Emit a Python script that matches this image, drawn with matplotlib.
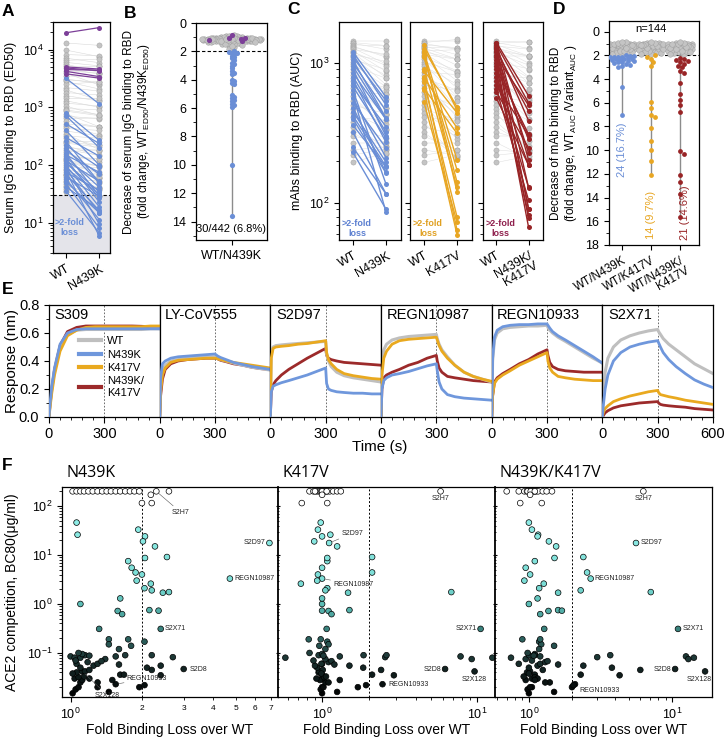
import numpy as np
import matplotlib
matplotlib.use("Agg")
import matplotlib.pyplot as plt
from matplotlib.colors import LinearSegmentedColormap, Normalize
from matplotlib.lines import Line2D
from matplotlib.ticker import MultipleLocator, FixedLocator, FixedFormatter, NullFormatter, LogLocator

# ---------------- data ----------------
# A / B : serum ED50, WT vs N439K
gray_wt_a = [13000, 9800, 8200, 7100, 6500, 6000, 5600, 5200, 4700, 4300,
             3900, 3500, 3100, 2800, 2500, 2200, 2000, 1800, 1600, 1450,
             1300, 1180, 1050, 950, 860, 780, 700, 640, 580, 520,
             470, 430, 390, 350, 320, 290, 260, 240, 220, 200,
             185, 170, 158, 146, 135, 125, 116, 108, 100, 93,
             87, 81, 76, 71, 66, 62, 58, 54, 50, 47,
             44, 41, 38, 36, 34, 68, 122, 250, 900, 3000]
gray_fold_a = [1.1, 1.3, 1.05, 1.2, 0.95, 1.15, 1.4, 1.0, 1.25, 1.1,
               1.6, 1.05, 1.2, 1.35, 0.9, 1.15, 1.5, 1.1, 1.25, 1.0,
               1.3, 1.12, 1.45, 1.05, 1.2, 1.7, 1.1, 0.98, 1.28, 1.15,
               1.4, 1.08, 1.22, 1.9, 1.1, 1.32, 1.02, 1.18, 1.55, 1.12,
               1.25, 0.92, 1.38, 1.15, 1.05, 1.8, 1.2, 1.1, 1.3, 1.0,
               1.45, 1.15, 1.25, 1.06, 1.65, 1.2, 1.1, 1.35, 1.03, 1.22,
               1.5, 1.12, 1.28, 0.88, 1.16, 1.08, 1.24, 1.14, 1.2, 1.1]
blue_wt_a = [3200, 800, 720, 520, 400, 300, 260, 220, 200, 180, 160, 150, 140, 130, 120,
             115, 110, 100, 95, 90, 85, 80, 75, 70, 62, 58, 52, 48, 42, 36]
blue_fold_a = [2.8, 3.0, 3.6, 2.2, 4.0, 2.1, 5.2, 2.4, 4.1, 2.6, 5.5, 2.0, 3.4, 5.7, 2.3,
               4.2, 3.2, 5.3, 10.0, 2.9, 5.8, 13.6, 2.05, 4.3, 2.15, 5.1, 3.5, 5.9, 2.5, 5.4]
purple_wt_a = [19500, 5000, 4800, 4500, 4200, 3800]
purple_n439k_a = [24000, 4600, 4300, 4400, 3400, 3200]

# C / D : mAb AUC, WT vs variants
gray_wt_c = [1435, 1400, 1380, 1350, 1320, 1300, 1280, 1250, 1220, 1200,
             1180, 1150, 1120, 1100, 1060, 1020, 980, 950, 900, 860,
             820, 780, 740, 700, 660, 620, 580, 540, 500, 470,
             440, 410, 380, 350, 320, 300, 270, 240, 220, 195]
gray_fold_n439k = [1.0, 1.05, 1.1, 1.02, 1.2, 1.15, 1.3, 1.08, 1.4, 1.25,
                   1.5, 1.12, 1.6, 1.35, 1.18, 1.7, 1.45, 1.22, 1.9, 1.55,
                   1.28, 1.8, 1.1, 1.65, 1.38, 1.03, 1.75, 1.48, 1.15, 1.85,
                   1.3, 1.05, 1.6, 1.2, 1.42, 1.1, 1.0, 0.95, 0.9, 0.85]
gray_fold_k417v = [1.0, 0.95, 1.1, 1.05, 1.15, 1.02, 1.2, 1.3, 0.98, 1.12,
                   1.4, 1.08, 1.5, 1.25, 1.6, 1.18, 1.7, 1.35, 1.9, 1.04,
                   1.45, 1.22, 1.8, 1.1, 1.55, 1.3, 1.65, 1.0, 1.75, 1.2,
                   1.42, 1.06, 1.85, 1.15, 1.5, 1.25, 1.0, 1.1, 0.92, 0.88]
gray_fold_dbl = [1.02, 1.1, 0.97, 1.2, 1.05, 1.3, 1.15, 1.4, 1.08, 1.5,
                 1.22, 1.6, 1.0, 1.7, 1.35, 1.12, 1.8, 1.45, 1.25, 1.9,
                 1.05, 1.55, 1.32, 1.18, 1.65, 1.4, 1.1, 1.75, 1.28, 1.5,
                 1.85, 1.2, 1.6, 1.38, 1.15, 1.0, 1.3, 1.05, 0.95, 0.9]
hit_wt_n439k = [1200, 1150, 1100, 1050, 1000, 950, 900, 850, 800, 760, 720, 680,
                640, 600, 560, 520, 480, 450, 420, 400, 360, 320, 250, 230]
hit_fold_n439k = [2.1, 2.3, 2.05, 2.6, 2.2, 2.4, 3.0, 2.15, 2.5, 2.8, 2.05, 2.35,
                  4.7, 7.0, 2.65, 2.1, 2.9, 2.3, 2.3, 2.45, 2.0, 2.75, 2.15, 2.55]
hit_wt_k417v = [1260, 1340, 880, 790, 660, 1200, 1100, 1140, 910, 1200, 730, 525, 775, 645]
hit_fold_k417v = [2.6, 2.9, 2.0, 2.3, 2.1, 5.9, 6.4, 8.1, 7.0, 10.0, 9.2, 7.2, 12.1, 10.9]
hit_wt_dbl = [1400, 1380, 1350, 1300, 1280, 1250, 1220, 1200, 1150, 1100, 1050,
              1000, 950, 900, 850, 800, 750, 700, 650, 620, 560]
hit_fold_dbl = [2.4, 6.8, 2.6, 10.1, 3.3, 13.7, 2.7, 5.3, 12.7, 2.2, 15.6,
                3.5, 12.1, 2.9, 10.3, 4.3, 5.8, 2.3, 6.2, 2.5, 3.0]

# E : BLI sensorgrams
e_antibodies = ["S309", "LY-CoV555", "S2D97", "REGN10987", "REGN10933", "S2X71"]
e_time = [0, 5, 15, 30, 60, 100, 150, 200, 250, 300, 305, 315, 330, 360, 400, 450, 500, 550, 600]
e_wt = [
    [0, .08, .20, .33, .50, .59, .62, .625, .625, .625, .625, .625, .625, .625, .625, .625, .625, .63, .63],
    [0, .22, .33, .37, .40, .41, .42, .425, .43, .43, .425, .42, .41, .40, .385, .37, .355, .345, .335],
    [0, .45, .50, .51, .515, .52, .525, .53, .535, .54, .45, .40, .36, .32, .295, .28, .27, .26, .25],
    [0, .38, .48, .52, .55, .565, .575, .58, .585, .59, .56, .52, .48, .43, .37, .32, .29, .27, .25],
    [0, .40, .55, .60, .63, .64, .645, .65, .65, .655, .64, .62, .60, .57, .54, .50, .46, .42, .385],
    [0, .15, .32, .42, .50, .55, .58, .60, .615, .625, .61, .59, .56, .52, .48, .43, .38, .345, .31]]
e_n439k = [
    [0, .09, .22, .35, .52, .60, .625, .63, .63, .63, .63, .63, .63, .63, .63, .63, .63, .63, .63],
    [0, .28, .38, .40, .42, .43, .435, .44, .445, .45, .445, .435, .425, .41, .39, .375, .36, .35, .34],
    [0, .18, .22, .23, .245, .26, .28, .30, .325, .35, .24, .20, .19, .18, .175, .17, .17, .165, .165],
    [0, .20, .26, .28, .30, .31, .325, .345, .365, .38, .33, .25, .20, .16, .145, .135, .13, .125, .12],
    [0, .42, .57, .62, .645, .655, .66, .66, .665, .665, .655, .635, .61, .58, .55, .51, .47, .43, .385],
    [0, .08, .20, .30, .40, .46, .50, .52, .535, .545, .53, .50, .46, .41, .36, .31, .265, .235, .21]]
e_k417v = [
    [0, .06, .17, .30, .47, .58, .62, .64, .645, .645, .645, .645, .645, .645, .645, .645, .645, .65, .65],
    [0, .18, .30, .35, .39, .405, .41, .415, .42, .42, .42, .415, .41, .40, .39, .38, .37, .36, .35],
    [0, .42, .49, .50, .505, .51, .52, .525, .535, .545, .46, .41, .38, .34, .31, .295, .285, .275, .27],
    [0, .30, .42, .47, .52, .545, .555, .56, .565, .57, .55, .51, .47, .42, .37, .32, .29, .27, .255],
    [0, .15, .24, .27, .30, .33, .37, .40, .43, .46, .40, .35, .32, .29, .28, .27, .265, .26, .26],
    [0, .03, .06, .08, .11, .13, .15, .165, .18, .19, .175, .16, .155, .145, .135, .12, .11, .10, .09]]
e_dbl = [
    [0, .08, .20, .34, .51, .61, .64, .65, .65, .65, .65, .65, .65, .65, .65, .65, .648, .645, .645],
    [0, .15, .27, .34, .38, .40, .41, .415, .42, .42, .42, .415, .405, .395, .38, .37, .355, .345, .34],
    [0, .18, .23, .26, .30, .34, .38, .42, .455, .49, .44, .42, .41, .40, .39, .385, .38, .375, .37],
    [0, .20, .28, .30, .32, .34, .37, .39, .42, .44, .40, .35, .32, .29, .28, .27, .26, .255, .25],
    [0, .15, .25, .28, .31, .34, .38, .41, .45, .48, .44, .39, .36, .34, .33, .325, .32, .32, .32],
    [0, .01, .03, .045, .065, .08, .09, .10, .105, .11, .10, .09, .085, .08, .075, .07, .06, .055, .05]]

# F : ACE2 competition (BC80) vs fold binding loss, same mAbs in all three panels
bc80 = [200, 200, 200, 200, 200, 200, 200, 200, 200, 200,
        200, 200, 200, 200, 200, 200, 200, 200, 170, 115,
        115, 46, 26, 33, 24, 19, 15, 17.6, 7.5, 9.1,
        8.7, 5.5, 4.4, 4.0, 3.3, 3.0, 2.6, 2.1, 1.9, 1.7,
        1.75, 1.0, 1.3, 0.72, 0.62, 0.75, 0.73, 0.31, 0.31, 0.19,
        0.17, 0.15, 0.19, 0.14, 0.12, 0.047, 0.042, 0.023, 0.082, 0.09,
        0.085, 0.075, 0.08, 0.08, 0.06, 0.055, 0.05, 0.045, 0.035, 0.036,
        0.036, 0.02, 0.022, 0.02, 0.015, 0.018, 0.02, 0.025, 0.03, 0.028,
        0.032, 0.04, 0.042, 0.045, 0.05, 0.055, 0.06, 0.065, 0.07, 0.075,
        0.09, 0.095, 0.085, 0.09, 0.1, 0.088, 0.068, 0.058, 0.03, 0.025,
        0.016, 0.028, 0.038, 0.033]
loss_n439k = [2.3, 1.02, 1.06, 1.10, 1.14, 1.19, 1.24, 1.30, 1.36, 1.42,
              1.48, 1.55, 1.62, 1.70, 1.78, 1.86, 1.95, 2.6, 2.18, 2.0,
              2.2, 1.06, 1.07, 1.93, 2.06, 2.02, 2.27, 6.9, 1.75, 2.55,
              2.06, 1.81, 1.88, 2.0, 4.7, 1.9, 2.18, 2.05, 2.2, 2.45,
              2.6, 1.1, 1.62, 1.58, 1.65, 2.15, 2.35, 2.4, 1.32, 1.45,
              2.05, 1.45, 1.75, 1.8, 1.6, 3.0, 1.12, 1.55, 2.7, 2.2,
              1.0, 1.05, 1.1, 1.04, 1.06, 2.4, 2.1, 2.2, 2.4, 1.62,
              1.68, 1.95, 2.05, 1.3, 1.02, 1.05, 1.08, 1.1, 1.04, 1.12,
              1.08, 1.06, 1.15, 1.2, 1.1, 1.25, 1.3, 1.18, 1.05, 1.4,
              1.15, 1.12, 1.55, 1.7, 1.08, 1.2, 1.35, 1.6, 1.2, 1.3,
              1.45, 1.5, 1.02, 1.14]
loss_k417v = [5.8, 0.83, 0.88, 0.92, 0.95, 0.97, 0.99, 1.01, 1.03, 1.05,
              1.08, 1.12, 1.18, 1.25, 1.32, 0.90, 1.00, 1.07, 1.00, 0.74,
              1.08, 0.98, 1.13, 0.94, 1.00, 0.89, 1.25, 1.11, 1.08, 2.1,
              1.08, 1.0, 2.1, 0.94, 1.0, 0.93, 0.73, 1.08, 1.05, 1.47,
              6.8, 1.0, 1.0, 1.1, 1.15, 1.5, 1.0, 10.5, 1.07, 0.82,
              1.08, 1.1, 0.98, 0.96, 1.05, 6.2, 9.6, 2.45, 2.55, 2.6,
              7.8, 9.2, 12.5, 0.58, 1.0, 1.5, 1.84, 2.4, 2.9, 2.1,
              1.0, 1.7, 1.92, 1.0, 1.0, 0.98, 1.02, 1.05, 1.0, 0.97,
              1.03, 0.95, 0.96, 1.01, 0.93, 0.9, 0.99, 1.1, 0.88, 1.05,
              0.95, 1.0, 1.3, 1.85, 0.83, 1.02, 1.15, 1.2, 0.92, 1.1,
              1.25, 1.3, 0.99, 1.06]
loss_dbl = [6.3, 0.70, 0.85, 0.93, 0.97, 1.00, 1.02, 1.04, 1.06, 1.09,
            1.12, 1.16, 1.25, 1.33, 1.45, 0.98, 1.03, 1.10, 1.02, 0.87,
            1.23, 1.0, 1.16, 1.05, 1.15, 1.38, 1.55, 5.6, 1.1, 2.4,
            1.51, 0.95, 2.55, 1.02, 2.7, 0.93, 1.27, 1.18, 2.3, 1.6,
            7.1, 1.0, 1.15, 1.37, 1.2, 1.6, 1.7, 11.0, 1.28, 0.9,
            1.18, 1.22, 1.2, 1.5, 1.18, 10.5, 17.0, 2.1, 3.0, 3.7,
            12.5, 13.0, 14.2, 0.75, 0.85, 2.4, 3.8, 6.0, 4.3, 2.3,
            1.1, 2.0, 2.05, 1.05, 1.0, 0.98, 1.02, 1.4, 1.05, 0.95,
            1.1, 0.97, 1.02, 1.25, 1.0, 1.15, 1.2, 1.3, 1.05, 0.95,
            1.0, 1.1, 1.2, 1.1, 0.98, 1.08, 1.35, 1.6, 1.15, 1.3,
            1.5, 1.1, 1.0, 0.92]
# index of labelled mAbs in the lists above
named_mabs = {"S2H7": 0, "S2D97": 27, "REGN10987": 34, "S2X71": 47,
              "S2D8": 55, "S2X128": 56, "REGN10933": 57}

# ---------------- style ----------------
plt.rcParams["font.family"] = ["Liberation Sans", "DejaVu Sans"]
plt.rcParams["mathtext.fontset"] = "custom"
plt.rcParams["mathtext.rm"] = "Liberation Sans"
plt.rcParams["mathtext.it"] = "Liberation Sans:italic"
plt.rcParams["mathtext.bf"] = "Liberation Sans:bold"
plt.rcParams["axes.linewidth"] = 0.9
plt.rcParams["xtick.major.width"] = 0.8
plt.rcParams["ytick.major.width"] = 0.8
plt.rcParams["xtick.minor.width"] = 0.6
plt.rcParams["ytick.minor.width"] = 0.6

GRAY_PT, GRAY_EDGE, GRAY_LN = "#c4c4c4", "#9c9c9c", "#d9d9d9"
BLUE, ORANGE, RED, PURPLE = "#6a8ed6", "#e8a623", "#982426", "#7c3f98"
E_COLS = {"wt": "#bfbfbf", "n439k": "#6f97dc", "k417v": "#e9a91f", "dbl": "#9c2a2a"}

W, H = 724, 737
fig = plt.figure(figsize=(W / 100, H / 100), dpi=100)


def add_ax(x0, y0, x1, y1):
    return fig.add_axes([x0 / W, 1 - y1 / H, (x1 - x0) / W, (y1 - y0) / H])


def swarm(vals, ax, d_px, max_px):
    # simple beeswarm offsets (data units of x) for a linear y axis
    x0, x1 = ax.get_xlim()
    y0, y1 = ax.get_ylim()
    sx = ax.bbox.width / abs(x1 - x0)
    sy = ax.bbox.height / abs(y1 - y0)
    ypx = np.asarray(vals, float) * sy
    steps = np.arange(d_px / 2, max_px + 0.01, d_px / 2)
    cands = [0.0] + [s * g for s in steps for g in (1, -1)]
    px, py = [], []
    out = np.zeros(len(ypx))
    for i in np.argsort(ypx):
        best, best_gap = 0.0, -1
        for c in cands:
            gap = np.min(np.hypot(np.array(px) - c, np.array(py) - ypx[i])) if px else np.inf
            if gap >= d_px:
                best = c
                break
            if gap > best_gap:
                best, best_gap = c, gap
        out[i] = best
        px.append(best)
        py.append(ypx[i])
    return out / sx


def panel_letter(x, y, s):
    fig.text(x / W, 1 - y / H, s, fontsize=12.5, fontweight="bold", va="center", ha="left")


# ---------------- A ----------------
axA = add_ax(53, 22, 110, 253)
axA.set_yscale("log")
axA.set_xlim(-0.38, 1.32)
axA.set_ylim(3, 30000)
axA.axhspan(3, 30, color="#e4e4ea", lw=0, zorder=0)
axA.axhline(30, color="k", ls=(0, (3, 2)), lw=0.8, zorder=1)
gray_n439k_a = np.array(gray_wt_a) / np.array(gray_fold_a)
for w, v in zip(gray_wt_a, gray_n439k_a):
    axA.plot([0, 1], [w, v], color=GRAY_LN, lw=0.4, zorder=1)
axA.scatter(np.zeros(len(gray_wt_a)), gray_wt_a, s=14, c=GRAY_PT, edgecolors=GRAY_EDGE, linewidths=0.3, zorder=2)
axA.scatter(np.ones(len(gray_wt_a)), gray_n439k_a, s=14, c=GRAY_PT, edgecolors=GRAY_EDGE, linewidths=0.3, zorder=2)
blue_n439k_a = np.array(blue_wt_a) / np.array(blue_fold_a)
for w, v in zip(blue_wt_a, blue_n439k_a):
    axA.plot([0, 1], [w, v], color=BLUE, lw=0.9, zorder=3)
axA.scatter(np.zeros(len(blue_wt_a)), blue_wt_a, s=13, c=BLUE, lw=0, zorder=4)
axA.scatter(np.ones(len(blue_wt_a)), blue_n439k_a, s=13, c=BLUE, lw=0, zorder=4)
for w, v in zip(purple_wt_a, purple_n439k_a):
    axA.plot([0, 1], [w, v], color=PURPLE, lw=0.9, zorder=3)
axA.scatter(np.zeros(len(purple_wt_a)), purple_wt_a, s=13, c=PURPLE, lw=0, zorder=4)
axA.scatter(np.ones(len(purple_wt_a)), purple_n439k_a, s=13, c=PURPLE, lw=0, zorder=4)
axA.text(0.12, 8.2, ">2-fold\nloss", color=BLUE, fontsize=6.5, fontweight="bold", ha="center", va="center")
axA.set_xticks([0, 1])
axA.set_xticklabels(["WT", "N439K"], rotation=30, ha="right", rotation_mode="anchor", fontsize=9)
axA.tick_params(axis="y", labelsize=9)
axA.set_ylabel("Serum IgG binding to RBD (ED50)", fontsize=9)
axA.yaxis.set_label_coords(-0.63, 0.5)

# ---------------- B ----------------
axB = add_ax(196, 23, 267, 240)
axB.set_xlim(-1, 1)
axB.set_ylim(15.3, 0)
b_gray = list(gray_fold_a)
b_purple = list(np.array(purple_wt_a) / np.array(purple_n439k_a))
b_blue = list(blue_fold_a)
b_all = b_gray + b_purple + b_blue
b_off = swarm(b_all, axB, 2.6, 31)
ng, npu = len(b_gray), len(b_purple)
axB.plot([0, 0], [min(b_all), max(b_all)], color="#8c8c8c", lw=1.0, zorder=1)
axB.axhline(2, color="k", ls=(0, (3, 2)), lw=0.8, zorder=1)
axB.scatter(b_off[:ng], b_gray, s=16, c=GRAY_PT, edgecolors=GRAY_EDGE, linewidths=0.3, zorder=2)
axB.scatter(b_off[ng:ng + npu], b_purple, s=14, c=PURPLE, lw=0, zorder=3)
axB.scatter(b_off[ng + npu:], b_blue, s=14, c=BLUE, lw=0, zorder=3)
axB.text(0, 14.55, "30/442 (6.8%)", ha="center", va="center", fontsize=8)
axB.set_yticks(range(0, 15, 2))
axB.yaxis.set_minor_locator(FixedLocator(range(1, 16, 2)))
axB.set_xticks([0])
axB.set_xticklabels(["WT/N439K"], fontsize=9)
axB.tick_params(axis="y", labelsize=9)
axB.set_ylabel("Decrease of serum IgG binding to RBD\n(fold change, WT$_{\\mathrm{ED50}}$/N439K$_{\\mathrm{ED50}}$)",
               fontsize=8.5, linespacing=1.1)
axB.yaxis.set_label_coords(-0.62, 0.5)

# ---------------- C ----------------
c_sets = [
    ("N439K", gray_fold_n439k, hit_wt_n439k, hit_fold_n439k, BLUE, "#5b7fd0", ["WT", "N439K"], (339, 401)),
    ("K417V", gray_fold_k417v, hit_wt_k417v, hit_fold_k417v, ORANGE, "#e0a020", ["WT", "K417V"], (410, 472)),
    ("N439K/K417V", gray_fold_dbl, hit_wt_dbl, hit_fold_dbl, RED, "#8e1f4c", ["WT", "N439K/\nK417V"], (483, 543)),
]
for k, (name, gfold, hwt, hfold, col, tcol, xt, (x0, x1)) in enumerate(c_sets):
    ax = add_ax(x0, 22, x1, 240)
    ax.set_yscale("log")
    ax.set_ylim(54.5, 1963)
    ax.set_xlim(-0.42, 1.45)
    gvar = np.array(gray_wt_c) / np.array(gfold)
    for w, v in zip(gray_wt_c, gvar):
        ax.plot([0, 1], [w, v], color="#dedede", lw=0.35, zorder=1)
    ax.scatter(np.zeros(len(gray_wt_c)), gray_wt_c, s=14, c=GRAY_PT, edgecolors=GRAY_EDGE, linewidths=0.3, zorder=2)
    ax.scatter(np.ones(len(gray_wt_c)), gvar, s=14, c=GRAY_PT, edgecolors=GRAY_EDGE, linewidths=0.3, zorder=2)
    hvar = np.array(hwt) / np.array(hfold)
    for w, v in zip(hwt, hvar):
        ax.plot([0, 1], [w, v], color=col, lw=1.0, zorder=3)
    ax.scatter(np.zeros(len(hwt)), hwt, s=13, c=col, lw=0, zorder=4)
    ax.scatter(np.ones(len(hwt)), hvar, s=13, c=col, lw=0, zorder=4)
    ax.text(0.12, 66, ">2-fold\nloss", color=tcol, fontsize=6.5, fontweight="bold", ha="center", va="center")
    ax.set_xticks([0, 1])
    ax.set_xticklabels(xt, rotation=30, ha="right", rotation_mode="anchor", fontsize=9, linespacing=0.9)
    ax.tick_params(axis="y", labelsize=9)
    if k == 0:
        ax.set_ylabel("mAbs binding to RBD (AUC)", fontsize=9)
        ax.yaxis.set_label_coords(-0.58, 0.5)
    else:
        ax.tick_params(axis="y", which="both", labelleft=False)

# ---------------- D ----------------
axD = add_ax(609, 21, 699, 245)
axD.set_ylim(18, -0.9)
axD.set_xlim(-0.45, 2.65)
d_sets = [(gray_fold_n439k, hit_fold_n439k, BLUE, "24 (16.7%)", 0.0, 10.0),
          (gray_fold_k417v, hit_fold_k417v, ORANGE, "14 (9.7%)", 0.0, 15.5),
          (gray_fold_dbl, hit_fold_dbl, RED, "21 (14.6%)", 0.17, 15.3)]
for k, (gf, hf, col, lab, lx, ly) in enumerate(d_sets):
    vals = list(gf) + list(hf)
    off = swarm(vals, axD, 4.0, 12)
    axD.plot([k, k], [min(vals), max(vals)], color="#8c8c8c", lw=1.0, zorder=1)
    axD.scatter(k + off[:len(gf)], gf, s=16, c=GRAY_PT, edgecolors=GRAY_EDGE, linewidths=0.3, zorder=2)
    axD.scatter(k + off[len(gf):], hf, s=12, c=col, lw=0, zorder=3)
    axD.text(k + lx, ly, lab, rotation=90, color=col, fontsize=8, ha="center", va="center")
axD.axhline(2, color="k", ls=(0, (3, 2)), lw=0.8, zorder=1)
axD.text(1, -0.2, "n=144", ha="center", va="center", fontsize=8)
axD.set_yticks(range(0, 19, 2))
axD.yaxis.set_minor_locator(FixedLocator(range(1, 18, 2)))
axD.set_xticks([0, 1, 2])
axD.set_xticklabels(["WT/N439K", "WT/K417V", "WT/N439K/\nK417V"], rotation=30, ha="right",
                    rotation_mode="anchor", fontsize=8.5, linespacing=0.9)
axD.tick_params(axis="y", labelsize=9)
axD.set_ylabel("Decrease of mAb binding to RBD\n(fold change, WT$_{\\mathrm{AUC}}$ /Variant$_{\\mathrm{AUC}}$ )",
               fontsize=8.5, linespacing=1.1)
axD.yaxis.set_label_coords(-0.33, 0.5)

# ---------------- E ----------------
pw = 110.67
for i, ab in enumerate(e_antibodies):
    x0 = 49 + i * pw
    ax = add_ax(x0, 305, x0 + pw, 417)
    ax.set_xlim(0, 600)
    ax.set_ylim(0, 0.8)
    ax.axvline(300, color="#555555", lw=0.6, ls=(0, (2, 2)), zorder=1)
    ax.plot(e_time, e_dbl[i], color=E_COLS["dbl"], lw=2, zorder=2)
    ax.plot(e_time, e_k417v[i], color=E_COLS["k417v"], lw=2, zorder=3)
    ax.plot(e_time, e_n439k[i], color=E_COLS["n439k"], lw=2, zorder=3)
    ax.plot(e_time, e_wt[i], color=E_COLS["wt"], lw=2.2, zorder=2.5)
    ax.text(0.05, 0.97, ab, transform=ax.transAxes, va="top", ha="left", fontsize=10.5)
    ax.set_xticks([0, 300, 600] if i == 5 else [0, 300])
    ax.xaxis.set_minor_locator(MultipleLocator(60))
    ax.tick_params(axis="x", labelsize=10.5, length=4)
    ax.tick_params(axis="x", which="minor", length=2)
    if i == 0:
        ax.set_yticks([0, 0.2, 0.4, 0.6, 0.8])
        ax.set_yticklabels(["0.0", "0.2", "0.4", "0.6", "0.8"])
        ax.yaxis.set_minor_locator(MultipleLocator(0.1))
        ax.tick_params(axis="y", labelsize=10.5)
        ax.set_ylabel("Response (nm)", fontsize=11)
        ax.yaxis.set_label_coords(-0.27, 0.5)
        handles = [Line2D([], [], color=E_COLS[c], lw=3) for c in ("wt", "n439k", "k417v", "dbl")]
        ax.legend(handles, ["WT", "N439K", "K417V", "N439K/\nK417V"], loc="upper left",
                  bbox_to_anchor=(0.27, 0.72), frameon=False, fontsize=8, handlelength=2.0,
                  handletextpad=0.5, labelspacing=0.3, borderpad=0, borderaxespad=0)
    else:
        ax.tick_params(axis="y", which="both", left=False, labelleft=False)
fig.text(380 / W, 1 - 447 / H, "Time (s)", ha="center", va="center", fontsize=11)

# ---------------- F ----------------
cmap = LinearSegmentedColormap.from_list("bc80", [
    (0.0, "#000000"), (0.167, "#142625"), (0.25, "#21403e"), (0.333, "#2d6461"),
    (0.389, "#3b8681"), (0.528, "#5cbdb6"), (0.639, "#7adcd5"), (1.0, "#8eece6")])
norm = Normalize(vmin=-1.9, vmax=1.7)
bc = np.array(bc80)
fill = [("white" if b >= 100 else cmap(norm(np.log10(b)))) for b in bc]

f_sets = [
    ("N439K", loss_n439k, (62, 278), (0.92, 7.5), {
        "S2H7": ((11, -15), "left", "center", True),
        "S2D97": ((-3, 0), "right", "center", False),
        "REGN10987": ((3, 0), "left", "center", False),
        "S2X71": ((3, 0), "left", "center", False),
        "S2D8": ((4, 0), "left", "center", False),
        "S2X128": ((18, -17), "center", "center", True),
        "REGN10933": ((8, 4), "left", "center", True)}),
    ("K417V", loss_k417v, (278, 495), (0.52, 13.0), {
        "S2H7": ((0, -3), "center", "top", False),
        "S2D97": ((9, 7), "left", "center", True),
        "REGN10987": ((8, -4), "left", "center", True),
        "S2X71": ((-3, 0), "right", "center", False),
        "S2D8": ((-3, 0), "right", "center", False),
        "S2X128": ((0, -3), "center", "top", False),
        "REGN10933": ((4, 0), "left", "center", False)}),
    ("N439K/K417V", loss_dbl, (495, 712), (0.58, 19.0), {
        "S2H7": ((0, -3), "center", "top", False),
        "S2D97": ((3, 0), "left", "center", False),
        "REGN10987": ((3, 0), "left", "center", False),
        "S2X71": ((3, 0), "left", "center", False),
        "S2D8": ((-3, 0), "right", "center", False),
        "S2X128": ((-4, -3), "center", "top", False),
        "REGN10933": ((3, -2), "left", "top", False)}),
]
for k, (title, loss, (x0, x1), xl, tags) in enumerate(f_sets):
    ax = add_ax(x0, 487, x1, 697)
    ax.set_xscale("log")
    ax.set_yscale("log")
    ax.set_xlim(*xl)
    ax.set_ylim(0.0126, 245)
    ax.axvline(2, color="k", lw=0.7, ls=(0, (2, 2)), zorder=1)
    ax.scatter(loss, bc, s=17, c=fill, edgecolors="black", linewidths=0.5, zorder=3)
    for name, (off, ha, va, leader) in tags.items():
        j = named_mabs[name]
        ax.annotate(name, (loss[j], bc[j]), xytext=off, textcoords="offset points", fontsize=5,
                    ha=ha, va=va, color="#222222", zorder=4,
                    arrowprops=dict(arrowstyle="-", color="#555555", lw=0.4, shrinkA=0, shrinkB=2.5)
                    if leader else None)
    ax.text(0.02, 1.03, title, transform=ax.transAxes, fontsize=11.5, ha="left", va="bottom",
            family=["Open Sans", "DejaVu Sans"])
    ax.set_xlabel("Fold Binding Loss over WT", fontsize=10)
    ax.xaxis.labelpad = 1
    ax.tick_params(axis="x", labelsize=9)
    ax.yaxis.set_major_locator(LogLocator(base=10, numticks=10))
    ax.yaxis.set_minor_locator(LogLocator(base=10, subs=np.arange(2, 10), numticks=10))
    if k == 0:
        ax.set_xticks([1])
        ax.xaxis.set_minor_locator(FixedLocator([2, 3, 4, 5, 6, 7]))
        ax.xaxis.set_minor_formatter(FixedFormatter(["2", "3", "4", "5", "6", "7"]))
        ax.tick_params(axis="x", which="minor", labelsize=6, length=2.5)
        ax.tick_params(axis="y", labelsize=9)
        ax.set_ylabel("ACE2 competition, BC80(μg/ml)", fontsize=10)
        ax.yaxis.set_label_coords(-0.2, 0.5)
    else:
        ax.set_xticks([1, 10])
        ax.xaxis.set_minor_formatter(NullFormatter())
        ax.tick_params(axis="y", which="both", labelleft=False, direction="inout")
        ax.spines["left"].set_linewidth(1.3)

panel_letter(2, 12, "A")
panel_letter(124, 13, "B")
panel_letter(287, 10, "C")
panel_letter(553, 10, "D")
panel_letter(2, 290, "E")
panel_letter(2, 465, "F")

fig.savefig("out.png", dpi=100, facecolor="white")
